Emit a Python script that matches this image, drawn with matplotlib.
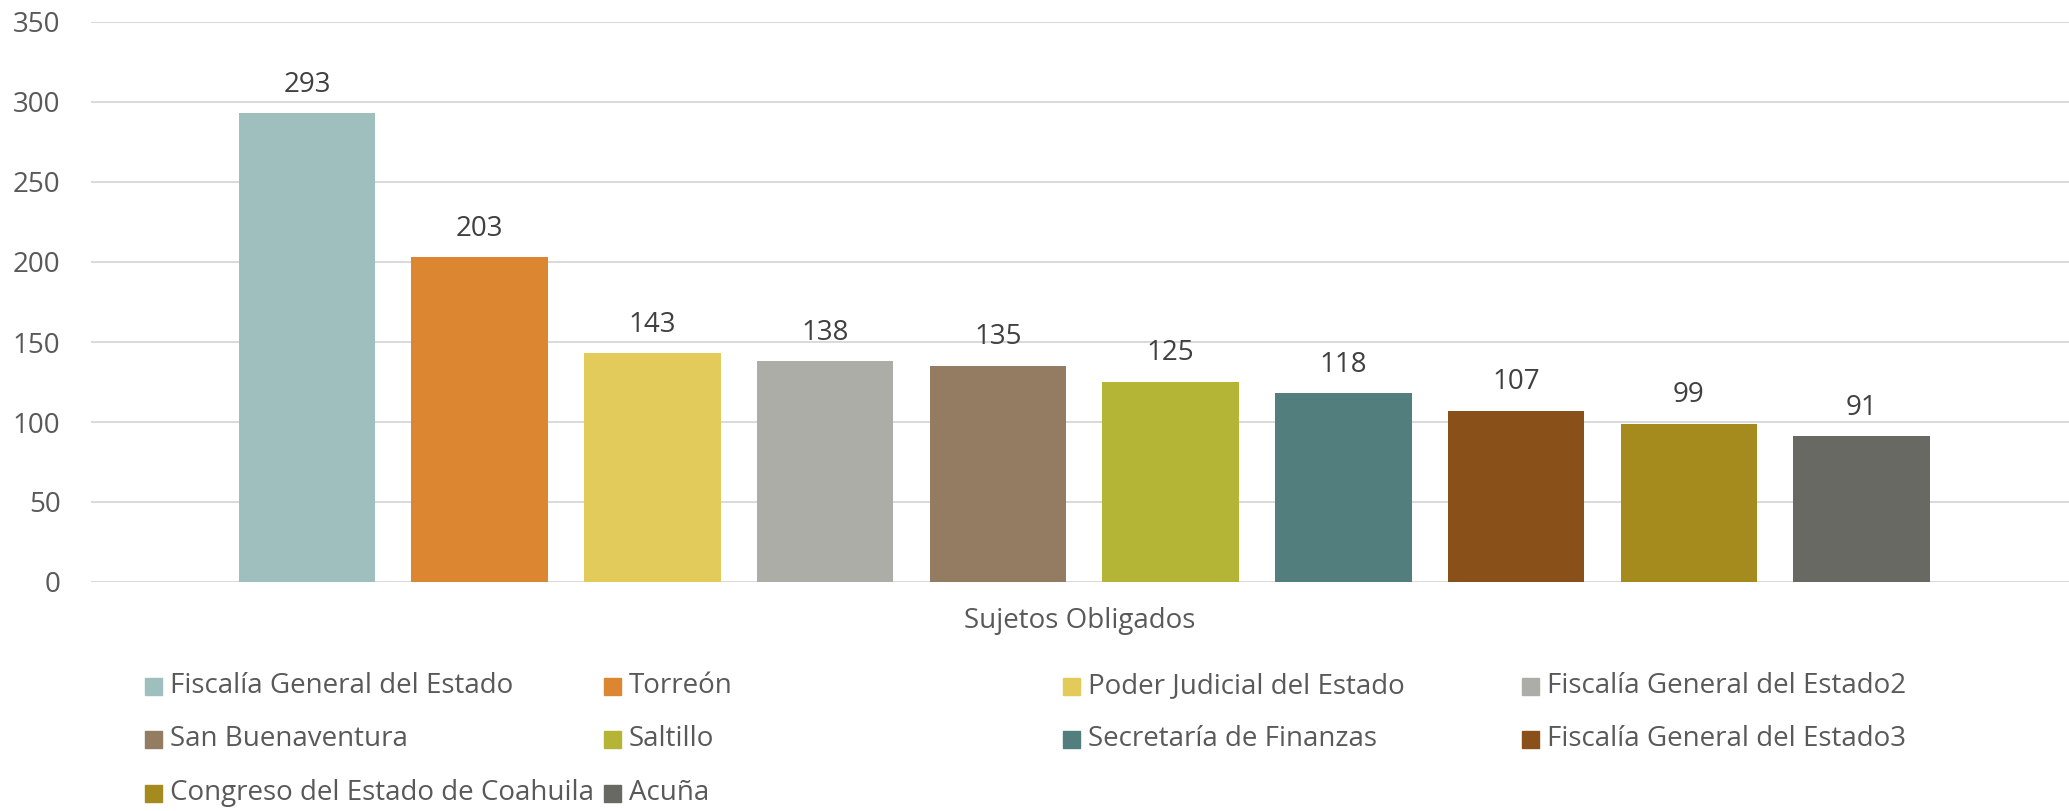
import matplotlib.pyplot as plt
from matplotlib.patches import Rectangle

plt.rcParams['font.family'] = ['Open Sans', 'DejaVu Sans']

sujetos = ['Fiscalía General del Estado', 'Torreón', 'Poder Judicial del Estado',
           'Fiscalía General del Estado2', 'San Buenaventura', 'Saltillo',
           'Secretaría de Finanzas', 'Fiscalía General del Estado3',
           'Congreso del Estado de Coahuila', 'Acuña']
valores = [293, 203, 143, 138, 135, 125, 118, 107, 99, 91]
colores = ['#9FBFBE', '#DC8632', '#E2CB5A', '#ADADA7', '#937C62', '#B4B436',
           '#527E7D', '#8A5019', '#A58B1E', '#686963']
yticks = [0, 50, 100, 150, 200, 250, 300, 350]

W, H = 2069, 811
fig = plt.figure(figsize=(W / 100, H / 100), dpi=100)
ax = fig.add_axes([91 / W, 1 - 582 / H, (W - 91) / W, (582 - 22) / H])

x = list(range(len(valores)))
bars = ax.bar(x, valores, width=0.79, color=colores, zorder=2)
for b, v in zip(bars, valores):
    ax.annotate(str(v), (b.get_x() + b.get_width() / 2, v), xytext=(0, 10.5),
                textcoords='offset points', ha='center', va='bottom',
                fontsize=20, color='#404040')

ax.set_ylim(0, 350)
ax.set_xlim(-1.25, 10.2)
ax.set_yticks(yticks)
ax.set_xticks([])
ax.tick_params(axis='y', length=0, pad=22, labelsize=20, labelcolor='#595959')
ax.grid(axis='y', color='#D9D9D9', linewidth=1.4)
ax.set_axisbelow(True)
for s in ax.spines.values():
    s.set_visible(False)
ax.set_xlabel('Sujetos Obligados', fontsize=20, color='#595959', labelpad=18)

# legend laid out like the Excel one: 4 equal columns, row by row
for i, (name, c) in enumerate(zip(sujetos, colores)):
    col, row = i % 4, i // 4
    x0 = 145 + col * 459
    yc = 686 + row * 53.5
    fig.add_artist(Rectangle((x0 / W, 1 - (yc + 8.5) / H), 17 / W, 17 / H,
                             transform=fig.transFigure, color=c))
    fig.text((x0 + 25) / W, 1 - yc / H, name, fontsize=20, color='#595959',
             va='center', ha='left')

fig.savefig('out.png', dpi=100)
